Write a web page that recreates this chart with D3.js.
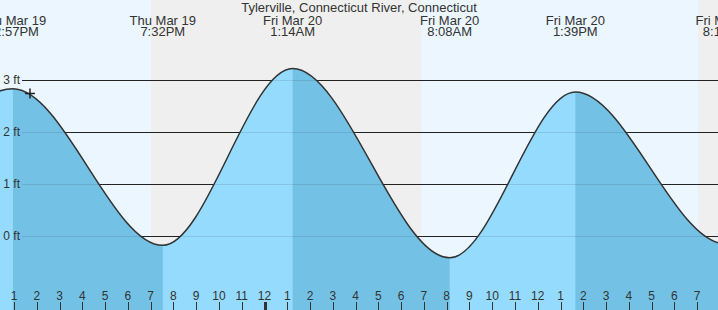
<!DOCTYPE html>
<head>
    <script src="https://d3js.org/d3.v7.min.js"></script>
    <title>Tylerville, Connecticut River tide chart</title>
    <style>
        body { margin: 0; }
        text { fill: #333; }
    </style>
</head>
<body>
<svg width="718" height="310" class="tide"></svg>
<script>
    const title = "Tylerville, Connecticut River, Connecticut";

    // high / low tides (first and last are off the chart, they keep the curve going at the edges)
    const tideTimes = ["2020-03-19 06:44", "2020-03-19 12:57", "2020-03-19 19:32", "2020-03-20 01:14",
        "2020-03-20 08:08", "2020-03-20 13:39", "2020-03-20 20:14", "2020-03-21 01:58"];
    const tideHeights = [-0.25, 2.83, -0.18, 3.22, -0.42, 2.77, -0.15, 3.15];
    const tideDays = ["", "Thu Mar 19", "Thu Mar 19", "Fri Mar 20", "Fri Mar 20", "Fri Mar 20", "Fri Mar 20", ""];
    const tideLabels = ["", "12:57PM", "7:32PM", "1:14AM", "8:08AM", "1:39PM", "8:14PM", ""];

    // sunset, sunrise, sunset
    const sunTimes = ["2020-03-19 19:01", "2020-03-20 06:53", "2020-03-20 19:02"];
    const yTicks = [0, 1, 2, 3];
    const nowTime = "2020-03-19 13:42";
    const startTime = "2020-03-19 12:23", endTime = "2020-03-20 19:55";

    const width = 718, height = 310;
    const parse = d3.timeParse("%Y-%m-%d %H:%M");
    const svg = d3.select(".tide");

    const x = d3.scaleTime().domain([parse(startTime), parse(endTime)]).range([0, width]);
    const y = d3.scaleLinear().domain([0, 3]).range([236, 80]);

    const tides = tideTimes.map(function(t, i){
        return {t: parse(t), h: tideHeights[i], day: tideDays[i], label: tideLabels[i]};
    });

    // day / night background
    svg.append("rect").attr("width", width).attr("height", height).attr("fill", "#ebf6fe");
    const sun = sunTimes.map(parse);
    const nights = [[sun[0], sun[1]], [sun[2], parse(endTime)]];
    svg.selectAll(".night").data(nights).enter().append("rect")
        .attr("class", "night")
        .attr("x", function(d){ return x(d[0]); })
        .attr("width", function(d){ return x(d[1]) - x(d[0]); })
        .attr("y", 0).attr("height", height)
        .attr("fill", "#efefef");

    const water = d3.area()
        .x(function(d){ return x(d.t); })
        .y0(height)
        .y1(function(d){ return y(d.h); })
        .curve(d3.curveMonotoneX);
    const sky = d3.area()
        .x(function(d){ return x(d.t); })
        .y0(0)
        .y1(function(d){ return y(d.h); })
        .curve(d3.curveMonotoneX);

    const defs = svg.append("defs");
    defs.append("clipPath").attr("id", "waterClip").append("path").attr("d", water(tides));
    defs.append("clipPath").attr("id", "skyClip").append("path").attr("d", sky(tides));

    // rising water light, falling water darker
    svg.append("path").attr("d", water(tides)).attr("fill", "#95dbfd");
    const falling = [];
    tides.forEach(function(d, i){
        if (i < tides.length - 1 && d.h > tides[i + 1].h) falling.push([d.t, tides[i + 1].t]);
    });
    svg.append("g").attr("clip-path", "url(#waterClip)")
        .selectAll("rect").data(falling).enter().append("rect")
        .attr("x", function(d){ return x(d[0]); })
        .attr("width", function(d){ return x(d[1]) - x(d[0]); })
        .attr("y", 0).attr("height", height)
        .attr("fill", "#73c2e6");

    // grid lines: faint in the water, dark in the sky
    svg.append("g").selectAll("line").data(yTicks).enter().append("line")
        .attr("x1", 22).attr("x2", width)
        .attr("y1", function(d){ return Math.round(y(d)) + 0.5; })
        .attr("y2", function(d){ return Math.round(y(d)) + 0.5; })
        .attr("stroke", "#000").attr("stroke-opacity", 0.1);
    svg.append("g").attr("clip-path", "url(#skyClip)")
        .selectAll("line").data(yTicks).enter().append("line")
        .attr("x1", 22).attr("x2", width)
        .attr("y1", function(d){ return Math.round(y(d)) + 0.5; })
        .attr("y2", function(d){ return Math.round(y(d)) + 0.5; })
        .attr("stroke", "#222");

    svg.append("g").selectAll("text").data(yTicks).enter().append("text")
        .attr("x", 20)
        .attr("y", function(d){ return y(d); })
        .attr("dy", "0.35em")
        .attr("text-anchor", "end")
        .style("font", "12px 'Liberation Sans'")
        .text(function(d){ return d + " ft"; });

    // tide curve
    const line = d3.line()
        .x(function(d){ return x(d.t); })
        .y(function(d){ return y(d.h); })
        .curve(d3.curveMonotoneX);
    svg.append("path").attr("d", line(tides))
        .attr("fill", "none").attr("stroke", "#333").attr("stroke-width", 1.5);

    // current time marker
    const now = parse(nowTime);
    svg.append("path")
        .attr("d", "M" + (x(now) - 5) + "," + 93.5 + "h10M" + x(now) + "," + 88.5 + "v10")
        .attr("stroke", "#222").attr("stroke-width", 1.5);

    // hour axis
    const hours = x.ticks(d3.timeHour.every(1));
    const hourFmt = d3.timeFormat("%-I");
    const axis = svg.append("g");
    axis.selectAll("line").data(hours).enter().append("line")
        .attr("x1", function(d){ return Math.round(x(d)) + 0.5; })
        .attr("x2", function(d){ return Math.round(x(d)) + 0.5; })
        .attr("y1", 302).attr("y2", height)
        .attr("stroke", "#333")
        .attr("stroke-width", function(d){ return d.getHours() === 0 ? 3 : 1; });
    axis.selectAll("text").data(hours).enter().append("text")
        .attr("x", function(d){ return x(d); })
        .attr("y", 299.5)
        .attr("text-anchor", "middle")
        .style("font", "12px 'Liberation Sans'")
        .text(function(d){ return hourFmt(d); });

    // title and tide labels
    svg.append("text").attr("x", 359).attr("y", 12)
        .attr("text-anchor", "middle")
        .style("font", "13px 'Liberation Sans'")
        .text(title);
    const labels = svg.append("g").selectAll("g").data(tides.filter(function(d){ return d.label; }))
        .enter().append("g");
    labels.append("text")
        .attr("x", function(d){ return x(d.t); }).attr("y", 24.5)
        .attr("text-anchor", "middle")
        .style("font", "13px 'Liberation Sans'")
        .text(function(d){ return d.day; });
    labels.append("text")
        .attr("x", function(d){ return x(d.t); }).attr("y", 36)
        .attr("text-anchor", "middle")
        .style("font", "13px 'Liberation Sans'")
        .text(function(d){ return d.label; });
</script>
</body>
